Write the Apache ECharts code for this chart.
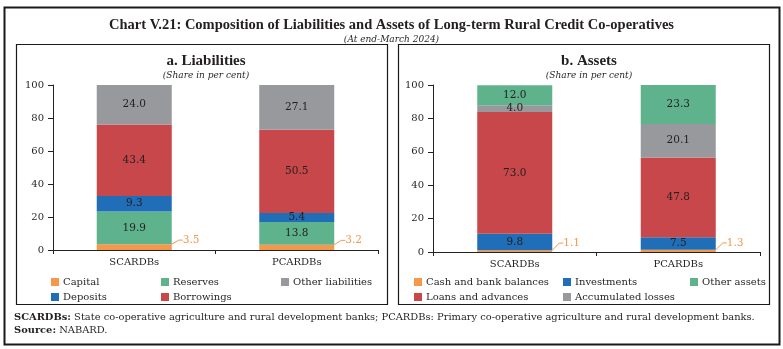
<!DOCTYPE html>
<html>
<head>
<meta charset="utf-8">
<script src="https://cdn.jsdelivr.net/npm/echarts@6/dist/echarts.min.js"></script>
<style>
  html, body { margin: 0; padding: 0; background: #fff; }
  #chart { width: 783px; height: 349px; }
</style>
</head>
<body>
<div id="chart"></div>
<script>
// Bank types on the category axis
const categories = ['SCARDBs', 'PCARDBs'];

// Liabilities, share in per cent
const capital = [3.5, 3.2];
const reserves = [19.9, 13.8];
const deposits = [9.3, 5.4];
const borrowings = [43.4, 50.5];
const otherLiabilities = [24.0, 27.1];

// Assets, share in per cent
const cashBank = [1.1, 1.3];
const investments = [9.8, 7.5];
const loansAdvances = [73.0, 47.8];
const accumulatedLosses = [4.0, 20.1];
const otherAssets = [12.0, 23.3];

const yMin = 0, yMax = 100, yStep = 20;

const C = {
  orange: '#F5984C',
  green: '#5EB38C',
  blue: '#1F6EB7',
  red: '#C8474A',
  gray: '#98999D'
};
const FONT = 'DejaVu Serif';
const TXT = '#231f20';

const chart = echarts.init(document.getElementById('chart'), null, { renderer: 'canvas' });

function inner(name, data, color, gi) {
  return {
    name, type: 'bar', stack: 's' + gi, data,
    xAxisIndex: gi, yAxisIndex: gi, barWidth: 75,
    itemStyle: { color },
    label: {
      show: true, position: 'inside', color: TXT,
      fontFamily: FONT, fontSize: 10.5,
      formatter: p => p.value.toFixed(1)
    }
  };
}
function small(name, data, color, gi, dx, dy) {
  return {
    name, type: 'bar', stack: 's' + gi, data,
    xAxisIndex: gi, yAxisIndex: gi, barWidth: 75,
    itemStyle: { color },
    label: {
      show: true, position: 'right', distance: 2, color: color,
      fontFamily: FONT, fontSize: 10.5,
      formatter: p => p.value.toFixed(1)
    },
    labelLayout: { dx, dy },
    labelLine: { show: true, length2: 4, lineStyle: { color: color, width: 1 } }
  };
}

function xAxis(gi) {
  return {
    type: 'category', data: categories, gridIndex: gi,
    axisLine: { lineStyle: { color: '#222', width: 1 } },
    axisTick: { show: true, length: 4, lineStyle: { color: '#222' } },
    axisLabel: { color: TXT, fontFamily: FONT, fontSize: 10, margin: 7 }
  };
}
function yAxis(gi) {
  return {
    type: 'value', min: yMin, max: yMax, interval: yStep, gridIndex: gi,
    axisLine: { show: true, lineStyle: { color: '#222', width: 1 } },
    axisTick: { show: true, length: 5, lineStyle: { color: '#222' } },
    splitLine: { show: false },
    axisLabel: { color: TXT, fontFamily: FONT, fontSize: 10, margin: 9 }
  };
}
function legendCol(names, left, top) {
  return {
    data: names, orient: 'vertical', left, top,
    itemWidth: 8, itemHeight: 8, itemGap: 5, icon: 'rect',
    selectedMode: false,
    textStyle: { color: TXT, fontFamily: FONT, fontSize: 10, padding: [0, 0, 0, -1] }
  };
}

const option = {
  animation: false,
  backgroundColor: '#fff',
  title: [
    { text: 'Chart V.21: Composition of Liabilities and Assets of Long-term Rural Credit Co-operatives',
      left: 'center', top: 13,
      textStyle: { fontFamily: 'Liberation Serif', fontWeight: 'bold', fontSize: 14.5, color: TXT } },
    { text: '(At end-March 2024)', left: 'center', top: 30,
      textStyle: { fontFamily: FONT, fontStyle: 'italic', fontWeight: 'normal', fontSize: 9, color: TXT } },
    { text: 'a. Liabilities', left: 201, textAlign: 'center', top: 49,
      textStyle: { fontFamily: 'Liberation Serif', fontWeight: 'bold', fontSize: 15, color: TXT } },
    { text: '(Share in per cent)', left: 201, textAlign: 'center', top: 66,
      textStyle: { fontFamily: FONT, fontStyle: 'italic', fontWeight: 'normal', fontSize: 9, color: TXT } },
    { text: 'b. Assets', left: 584, textAlign: 'center', top: 49,
      textStyle: { fontFamily: 'Liberation Serif', fontWeight: 'bold', fontSize: 15, color: TXT } },
    { text: '(Share in per cent)', left: 584, textAlign: 'center', top: 66,
      textStyle: { fontFamily: FONT, fontStyle: 'italic', fontWeight: 'normal', fontSize: 9, color: TXT } }
  ],
  grid: [
    { left: 53, right: 405, top: 85, bottom: 99 },
    { left: 433, right: 23, top: 85, bottom: 97 }
  ],
  xAxis: [xAxis(0), xAxis(1)],
  yAxis: [yAxis(0), yAxis(1)],
  legend: [
    legendCol(['Capital', 'Deposits'], 46, 272),
    legendCol(['Reserves', 'Borrowings'], 156, 272),
    legendCol(['Other liabilities'], 276, 272),
    legendCol(['Cash and bank balances', 'Loans and advances'], 409, 272),
    legendCol(['Investments', 'Accumulated losses'], 558, 272),
    legendCol(['Other assets'], 685, 272)
  ],
  series: [
    small('Capital', capital, C.orange, 0, 9, -7),
    inner('Reserves', reserves, C.green, 0),
    inner('Deposits', deposits, C.blue, 0),
    inner('Borrowings', borrowings, C.red, 0),
    inner('Other liabilities', otherLiabilities, C.gray, 0),
    small('Cash and bank balances', cashBank, C.orange, 1, 9, -8),
    inner('Investments', investments, C.blue, 1),
    inner('Loans and advances', loansAdvances, C.red, 1),
    inner('Accumulated losses', accumulatedLosses, C.gray, 1),
    inner('Other assets', otherAssets, C.green, 1)
  ],
  graphic: [
    { type: 'rect', shape: { x: 4.5, y: 7.5, width: 775, height: 337 },
      style: { fill: 'none', stroke: '#1a1a1a', lineWidth: 2 }, z: 100 },
    { type: 'rect', shape: { x: 16.5, y: 44.5, width: 371, height: 260 },
      style: { fill: 'none', stroke: '#1a1a1a', lineWidth: 1.2 }, z: 100 },
    { type: 'rect', shape: { x: 398.5, y: 44.5, width: 371, height: 260 },
      style: { fill: 'none', stroke: '#1a1a1a', lineWidth: 1.2 }, z: 100 },
    { type: 'text', left: 14, top: 312,
      style: {
        text: '{b|SCARDBs:} State co-operative agriculture and rural development banks; PCARDBs: Primary co-operative agriculture and rural development banks.',
        font: '9.9px "DejaVu Serif"', fill: TXT,
        rich: { b: { fontFamily: FONT, fontWeight: 'bold', fontSize: 9.9, fill: TXT } }
      } },
    { type: 'text', left: 14, top: 325,
      style: {
        text: '{b|Source:} NABARD.',
        font: '9.9px "DejaVu Serif"', fill: TXT,
        rich: { b: { fontFamily: FONT, fontWeight: 'bold', fontSize: 9.9, fill: TXT } }
      } }
  ]
};

chart.setOption(option);
</script>
</body>
</html>
